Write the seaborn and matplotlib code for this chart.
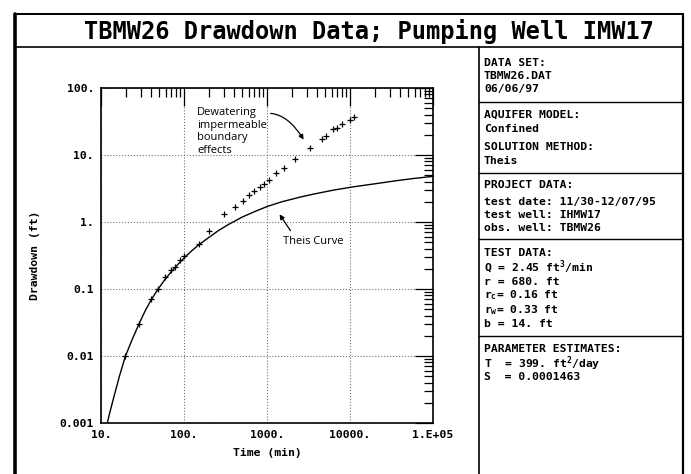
import matplotlib
matplotlib.use('Agg')
import matplotlib.pyplot as plt
import seaborn as sns
import pandas as pd
from matplotlib.lines import Line2D

time_obs = [19.6, 29.0, 39.8, 48.3, 59.4, 69.3, 78.2, 89.8, 98.8, 151, 200, 305,
            415, 514, 612, 704, 817, 930, 1047, 1297, 1587, 2200, 3280, 4630,
            5210, 6280, 6890, 8070, 9980, 11150]
drawdown_obs = [0.01, 0.030, 0.072, 0.101, 0.152, 0.192, 0.215, 0.27, 0.31, 0.47, 0.74, 1.30,
                1.66, 2.08, 2.53, 2.90, 3.3, 3.69, 4.24, 5.33, 6.3, 8.7, 12.6, 17.1,
                19.2, 24.2, 24.9, 28.7, 33.3, 36.5]

# Theis type curve
time_theis = [11.9, 12.8, 14.1, 16.6, 19.6, 23.9, 29, 34, 40, 48, 59, 70, 85, 100,
              125, 150, 200, 260, 350, 500, 700, 1000, 1500, 2500, 3700, 6400,
              11000, 20000, 37000, 60000, 100000]
drawdown_theis = [0.001, 0.00145, 0.0023, 0.0049, 0.0098, 0.018, 0.031, 0.047, 0.068, 0.097,
                  0.139, 0.18, 0.235, 0.29, 0.375, 0.455, 0.59, 0.745, 0.93, 1.18, 1.42,
                  1.7, 2.0, 2.35, 2.62, 3.0, 3.35, 3.72, 4.15, 4.48, 4.8]

x_ticks = [10, 100, 1000, 10000, 100000]
x_tick_labels = ['10.', '100.', '1000.', '10000.', '1.E+05']
y_ticks = [0.001, 0.01, 0.1, 1, 10, 100]
y_tick_labels = ['0.001', '0.01', '0.1', '1.', '10.', '100.']

title = 'TBMW26 Drawdown Data; Pumping Well IMW17'
# right-hand info panel: (text, pixel y)
panel_text = [
    ('DATA SET:', 63), ('TBMW26.DAT', 76), ('06/06/97', 89),
    ('AQUIFER MODEL:', 115), ('Confined', 129),
    ('SOLUTION METHOD:', 147), ('Theis', 161),
    ('PROJECT DATA:', 185), ('test date: 11/30-12/07/95', 202),
    ('test well: IHMW17', 215), ('obs. well: TBMW26', 228),
    ('TEST DATA:', 253), ('Q = 2.45 ft$^\\mathrm{3}$/min', 267), ('r = 680. ft', 282),
    ('r$_\\mathrm{c}$= 0.16 ft', 295), ('r$_\\mathrm{w}$= 0.33 ft', 310), ('b = 14. ft', 324),
    ('PARAMETER ESTIMATES:', 349), ('T  = 399. ft$^\\mathrm{2}$/day', 364),
    ('S  = 0.0001463', 377),
]
panel_rules = [102, 173, 239, 336]

W, H = 691, 474


def fx(x):
    return x / W


def fy(y):
    return 1 - y / H


def main():
    sns.set_style('white')
    plt.rcParams.update({
        'text.color': 'black', 'axes.labelcolor': 'black',
        'xtick.color': 'black', 'ytick.color': 'black',
        'mathtext.fontset': 'custom',
        'mathtext.rm': 'DejaVu Sans Mono:bold',
        'mathtext.it': 'DejaVu Sans Mono:bold',
        'mathtext.bf': 'DejaVu Sans Mono:bold',
    })
    mono = dict(family='DejaVu Sans Mono', weight='bold', size=8.2)

    fig = plt.figure(figsize=(W / 100, H / 100), dpi=100)
    ax = fig.add_axes([fx(101), fy(423), (433 - 101) / W, (423 - 88) / H])

    obs = pd.DataFrame({'t': time_obs, 's': drawdown_obs})
    theis = pd.DataFrame({'t': time_theis, 's': drawdown_theis})
    sns.lineplot(data=theis, x='t', y='s', ax=ax, color='black', lw=1.0, sort=False)
    sns.scatterplot(data=obs, x='t', y='s', ax=ax, marker='+', color='black', s=18,
                    linewidth=0.9, zorder=3)

    ax.set_xscale('log')
    ax.set_yscale('log')
    ax.set_xlim(10, 1e5)
    ax.set_ylim(0.001, 100)
    ax.set_xticks(x_ticks, x_tick_labels, **mono)
    ax.set_yticks(y_ticks, y_tick_labels, **mono)
    ax.tick_params(which='both', direction='in', top=True, right=True, width=0.9)
    ax.tick_params(which='major', length=13, pad=5)
    ax.tick_params(which='minor', length=6.5)
    ax.grid(which='major', ls=':', color='0.45', lw=0.8)
    for sp in ax.spines.values():
        sp.set_color('black')
        sp.set_linewidth(1.2)
    ax.set_xlabel('Time (min)', labelpad=6, **mono)
    ax.set_ylabel('Drawdown (ft)', labelpad=14, **mono)

    # annotations
    ax.text(144, 52, 'Dewatering\nimpermeable\nboundary\neffects', ha='left', va='top',
            family='Open Sans', size=8, linespacing=1.2)
    ax.annotate('', xy=(2870, 15.6), xytext=(1028, 42),
                arrowprops=dict(arrowstyle='-|>', color='black', lw=0.9, mutation_scale=7,
                                connectionstyle='angle3,angleA=0,angleB=-60'))
    ax.text(3580, 0.52, 'Theis Curve', ha='center', va='center', family='Open Sans', size=8)
    ax.annotate('', xy=(1358, 1.41), xytext=(2000, 0.685),
                arrowprops=dict(arrowstyle='-|>', color='black', lw=0.9, mutation_scale=7))

    # frame
    lines = [
        ((15, 15), (14, 474), 2.6),
        ((15, 683), (14, 14), 1.4),
        ((683, 683), (14, 474), 1.6),
        ((15, 683), (47, 47), 1.2),
        ((479, 479), (47, 474), 1.2),
    ]
    for y in panel_rules:
        lines.append(((479, 683), (y, y), 1.0))
    for xs, ys, lw in lines:
        fig.add_artist(Line2D([fx(v) for v in xs], [fy(v) for v in ys], color='black', lw=lw))

    fig.text(fx(84), fy(31), title, ha='left', va='center', family='DejaVu Sans Mono',
             weight='bold', size=17)
    for s, y in panel_text:
        fig.text(fx(484), fy(y), s, ha='left', va='center', **mono)

    fig.savefig('out.png', dpi=100, facecolor='white')


if __name__ == '__main__':
    main()
